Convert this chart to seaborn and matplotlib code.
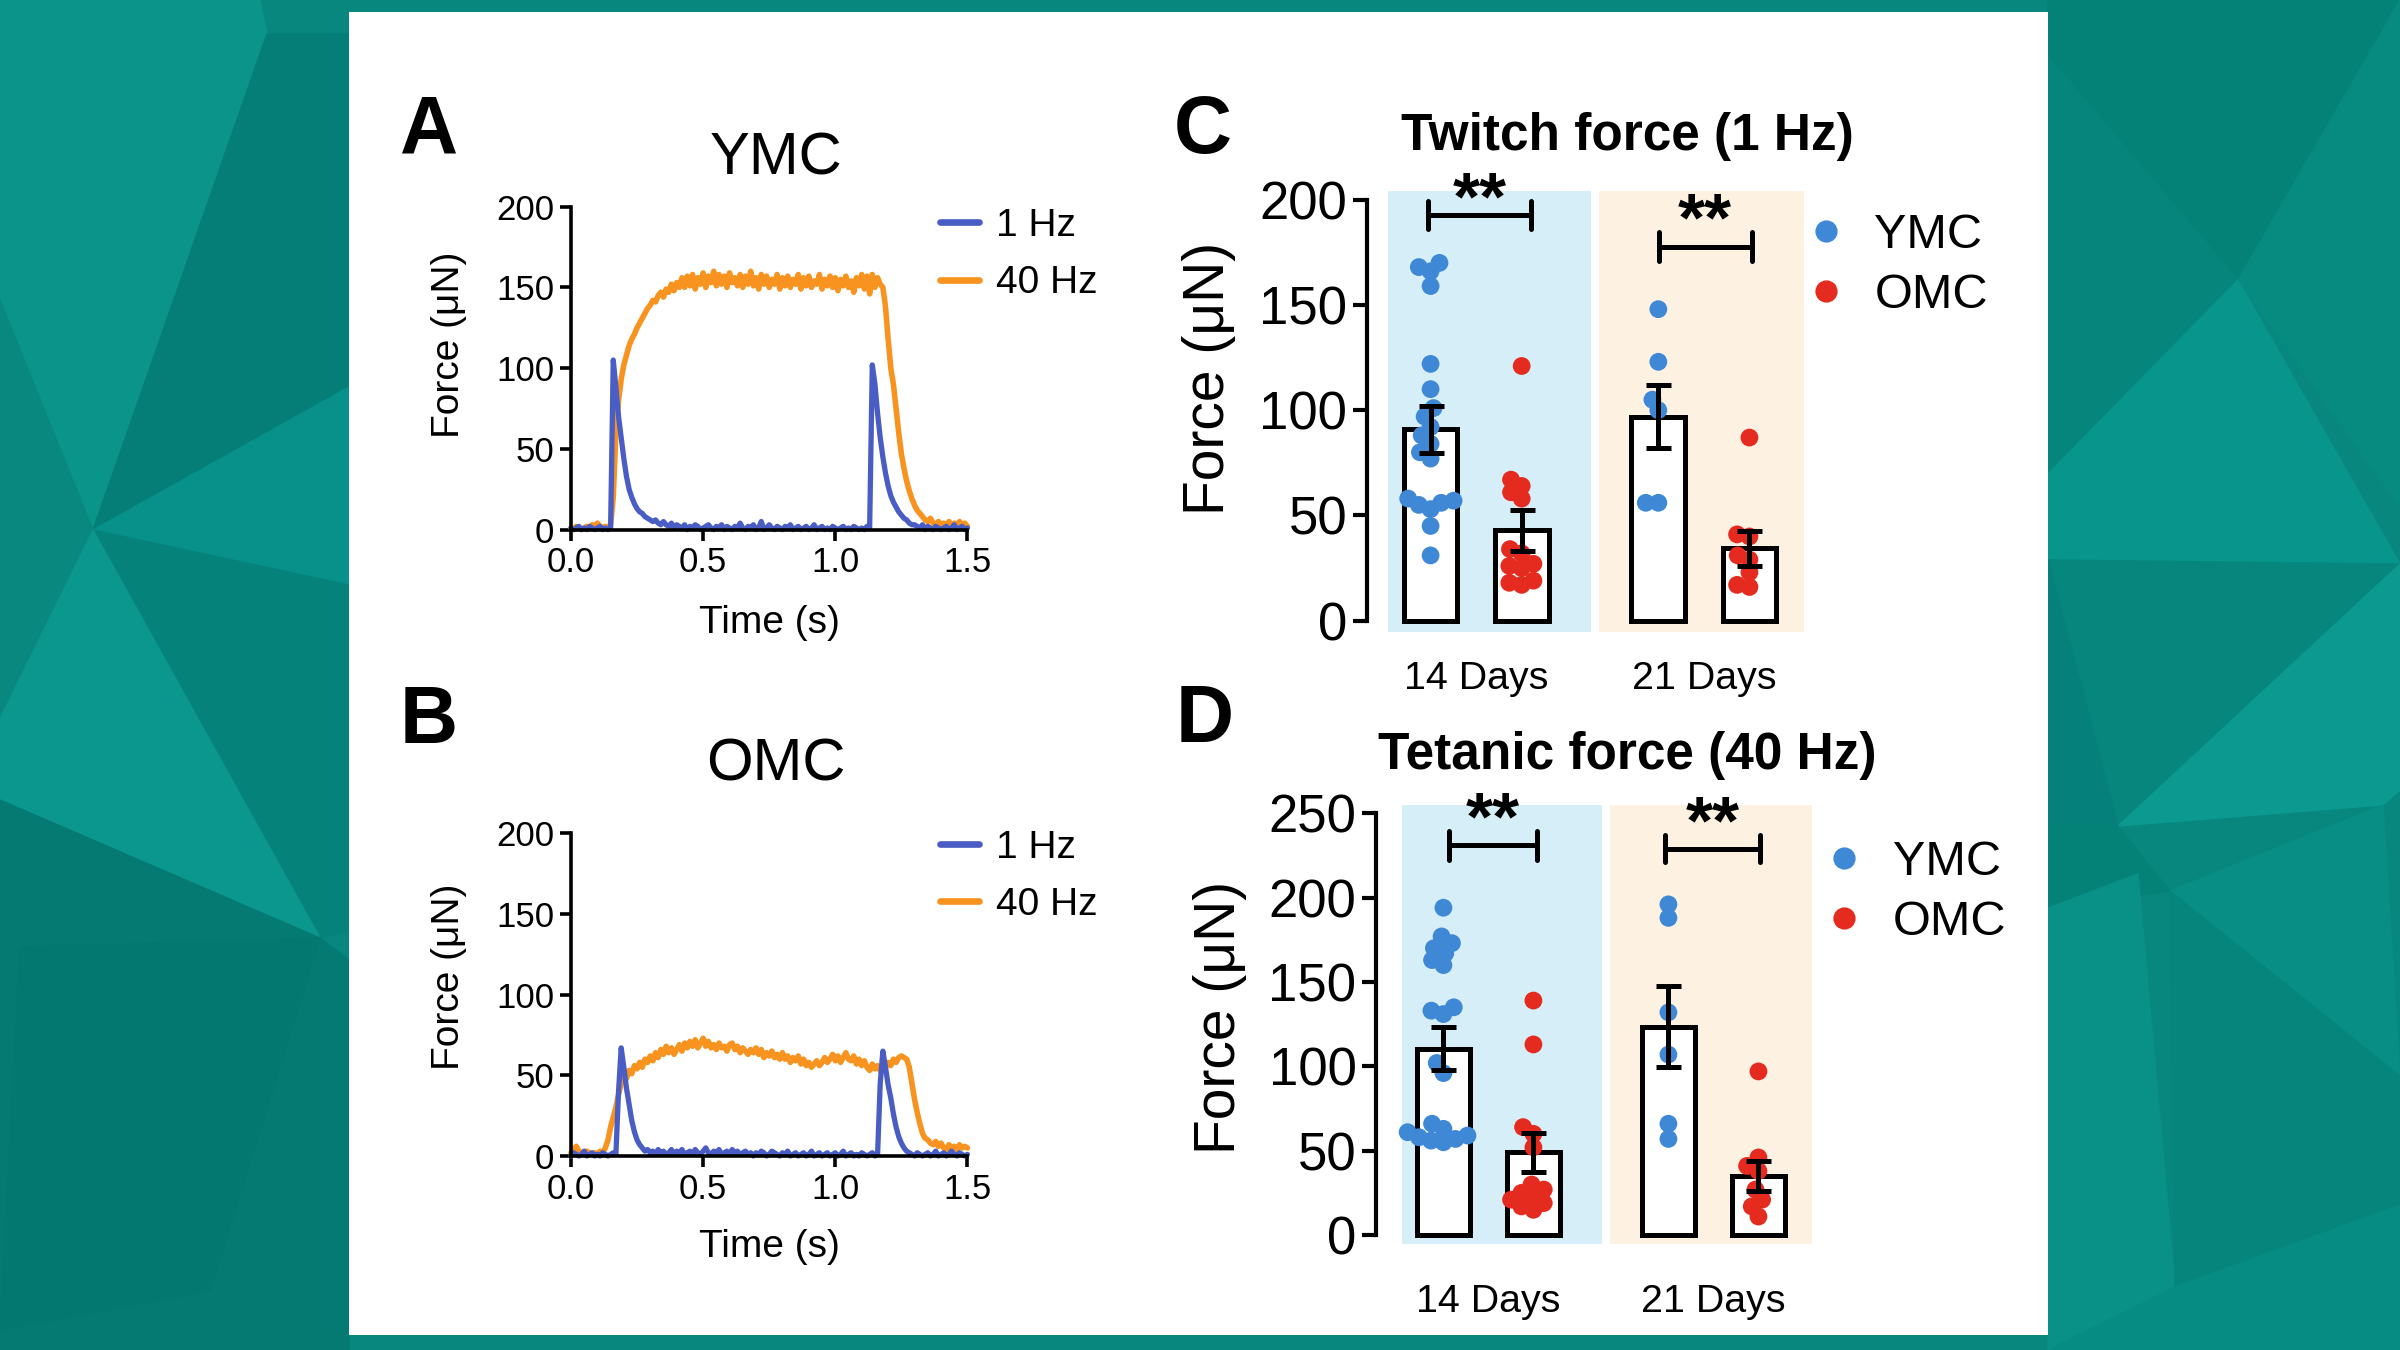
import numpy as np
import pandas as pd
import matplotlib.pyplot as plt
import seaborn as sns
from matplotlib.patches import Rectangle, Polygon
from matplotlib.lines import Line2D

# ---- force traces, one sample every 10 ms from 0.00 to 1.50 s ----
YMC_1HZ = [
    1, 0, 1, 2, 0, 1, 0, 2, 1, 0,
    1, 2, 0, 1, 0, 1, 105, 88, 70, 57,
    44, 33, 25, 20, 16, 13, 11, 10, 8, 7,
    6, 5, 6, 4, 3, 5, 3, 2, 4, 1,
    3, 2, 1, 3, 0, 2, 1, 3, 2, 0,
    1, 2, 3, 1, 0, 2, 1, 3, 0, 2,
    1, 0, 2, 1, 4, 1, 0, 2, 1, 3,
    0, 1, 5, 0, 1, 3, 1, 0, 2, 1,
    0, 2, 1, 3, 0, 1, 2, 0, 1, 2,
    0, 1, 3, 0, 1, 2, 0, 1, 0, 2,
    1, 0, 1, 2, 0, 1, 0, 2, 1, 0,
    1, 0, 2, 1, 102, 90, 72, 57, 45, 35,
    27, 21, 17, 14, 11, 9, 7, 6, 4, 3,
    3, 2, 1, 3, 0, 2, 1, 0, 2, 1,
    0, 1, 2, 0, 1, 3, 0, 1, 2, 0,
    1,
]
YMC_40HZ = [
    1, 0, 2, 1, 0, 1, 2, 1, 3, 2,
    4, 2, 1, 2, 1, 3, 20, 60, 80, 93,
    102, 108, 114, 118, 121, 125, 128, 131, 134, 137,
    139, 142, 141, 145, 147, 144, 149, 147, 152, 148,
    153, 150, 156, 150, 157, 151, 158, 149, 156, 152,
    159, 150, 157, 153, 160, 151, 158, 152, 157, 150,
    159, 153, 156, 151, 158, 150, 157, 152, 160, 151,
    156, 149, 158, 152, 157, 150, 155, 152, 158, 149,
    156, 151, 157, 150, 155, 152, 158, 149, 156, 151,
    157, 150, 154, 152, 158, 149, 155, 151, 157, 150,
    156, 148, 155, 151, 157, 150, 154, 147, 156, 151,
    158, 149, 157, 146, 158, 150, 156, 152, 150, 138,
    118, 100, 90, 75, 60, 47, 38, 30, 24, 19,
    15, 12, 10, 8, 6, 5, 7, 4, 3, 5,
    3, 4, 2, 5, 3, 4, 2, 5, 3, 4,
    2,
]
OMC_1HZ = [
    0, 2, 1, 0, 1, 3, 0, 1, 2, 0,
    1, 0, 2, 1, 0, 1, 2, 1, 40, 67,
    55, 42, 32, 22, 15, 10, 7, 5, 3, 4,
    2, 3, 1, 4, 2, 3, 1, 2, 4, 1,
    3, 2, 4, 1, 2, 3, 1, 4, 2, 1,
    3, 5, 2, 1, 3, 2, 4, 1, 2, 3,
    1, 4, 2, 3, 1, 2, 3, 1, 2, 0,
    2, 1, 3, 2, 0, 1, 3, 2, 1, 0,
    2, 1, 3, 0, 1, 2, 0, 1, 2, 0,
    1, 3, 0, 1, 2, 0, 1, 2, 0, 1,
    2, 0, 1, 3, 0, 1, 2, 0, 1, 0,
    2, 1, 0, 1, 2, 0, 1, 45, 65, 55,
    44, 36, 26, 18, 12, 8, 5, 3, 2, 1,
    0, 2, 1, 0, 1, 2, 0, 1, 3, 0,
    1, 2, 0, 1, 3, 1, 0, 2, 1, 0,
    1,
]
OMC_40HZ = [
    2, 4, 6, 3, 2, 1, 3, 2, 1, 2,
    1, 3, 2, 5, 10, 18, 24, 30, 38, 45,
    50, 48, 53, 51, 56, 54, 58, 55, 60, 58,
    62, 59, 64, 61, 66, 63, 68, 64, 67, 63,
    66, 69, 65, 70, 67, 71, 68, 72, 67, 70,
    73, 68, 71, 67, 69, 66, 70, 67, 68, 65,
    69, 70, 66, 68, 64, 67, 65, 63, 66, 64,
    67, 63, 66, 61, 64, 62, 65, 61, 63, 60,
    64, 60, 62, 58, 61, 59, 62, 57, 60, 56,
    58, 55, 57, 59, 56, 58, 61, 58, 60, 63,
    59, 62, 58, 61, 64, 60, 59, 62, 57, 60,
    56, 59, 55, 53, 57, 54, 56, 53, 57, 55,
    58, 56, 60, 58, 61, 62, 61, 60, 55, 45,
    35, 27, 20, 14, 11, 10, 8, 7, 9, 6,
    8, 5, 4, 7, 5, 6, 4, 7, 5, 6,
    5,
]

# ---- individual muscles (uN) ----
DAYS = ["14 Days", "21 Days"]
GROUPS = ["YMC", "OMC"]

TWITCH_YMC_14 = [170, 168, 166, 159, 122, 110, 101, 97, 92, 88, 84, 80, 77,
                 58, 57, 56, 55, 53, 45, 31]
TWITCH_OMC_14 = [121, 67, 64, 61, 58, 34, 32, 27, 26, 25, 19, 18, 17]
TWITCH_YMC_21 = [148, 123, 105, 100, 56, 56]
TWITCH_OMC_21 = [87, 41, 40, 31, 29, 23, 17, 16]
TWITCH_MEAN = {"YMC": [90.9, 97.0], "OMC": [43.0, 34.5]}
TWITCH_SEM = {"YMC": [11.2, 15.0], "OMC": [9.7, 8.3]}

TETANIC_YMC_14 = [194, 177, 173, 170, 167, 163, 160, 135, 133, 131, 102, 96,
                  66, 63, 61, 59, 58, 57, 56, 55]
TETANIC_OMC_14 = [139, 113, 64, 60, 52, 30, 27, 25, 23, 21, 19, 17, 15]
TETANIC_YMC_21 = [196, 188, 132, 107, 66, 57]
TETANIC_OMC_21 = [97, 46, 41, 38, 27, 21, 17, 11]
TETANIC_MEAN = {"YMC": [110.5, 123.5], "OMC": [49.0, 35.0]}
TETANIC_SEM = {"YMC": [12.8, 24.0], "OMC": [11.7, 8.9]}

LINE_BLUE = "#4a5dc4"
LINE_ORANGE = "#f7931e"
DOT_COLORS = {"YMC": "#3f88d6", "OMC": "#e52a1f"}
SHADE_BLUE = "#d5eef7"
SHADE_PEACH = "#fdf1e2"
TEAL = "#07877e"

# background low-poly pattern (pixel coords of the 2400x1350 canvas)
BG_POLYS = [
    ([(0, 0), (260, 0), (267, 34), (93, 530), (0, 300)], "#0a948a"),
    ([(0, 300), (93, 530), (0, 719)], "#08887f"),
    ([(267, 34), (349, 34), (349, 387), (93, 530)], "#047e76"),
    ([(93, 530), (349, 387), (349, 585)], "#07918a"),
    ([(93, 530), (349, 585), (349, 930), (320, 938)], "#05827a"),
    ([(0, 719), (93, 530), (320, 938), (0, 800)], "#0b978d"),
    ([(0, 800), (320, 938), (349, 960), (349, 1350), (0, 1350)], "#047a72"),
    ([(20, 947), (320, 938), (210, 1291), (0, 1330)], "#037870"),
    ([(2048, 0), (2400, 0), (2238, 280), (2048, 56)], "#058278"),
    ([(2238, 280), (2400, 0), (2400, 508)], "#078a80"),
    ([(2048, 56), (2238, 280), (2048, 474)], "#06857c"),
    ([(2048, 474), (2238, 280), (2400, 564), (2048, 560)], "#08958b"),
    ([(2048, 560), (2400, 564), (2118, 826)], "#06867d"),
    ([(2118, 826), (2400, 564), (2400, 790), (2383, 805)], "#0c9990"),
    ([(2048, 560), (2118, 826), (2048, 826)], "#05807a"),
    ([(2048, 826), (2118, 826), (2170, 891), (2048, 908)], "#058278"),
    ([(2170, 891), (2383, 805), (2400, 1076)], "#088e85"),
    ([(2048, 908), (2138, 874), (2175, 1287), (2048, 1350)], "#099188"),
    ([(2170, 891), (2400, 1076), (2400, 1205), (2175, 1287)], "#05857c"),
    ([(2175, 1287), (2400, 1205), (2400, 1350), (2048, 1350)], "#078c83"),
]

sns.set_theme(style="ticks", rc={
    "axes.edgecolor": "black", "xtick.color": "black", "ytick.color": "black",
    "text.color": "black", "axes.labelcolor": "black",
})
plt.rcParams["font.family"] = ["Liberation Sans", "DejaVu Sans"]

fig = plt.figure(figsize=(12, 6.75), dpi=200)
fig.patch.set_facecolor(TEAL)
for pts, col in BG_POLYS:
    xy = [(x / 2400, 1 - y / 1350) for x, y in pts]
    fig.add_artist(Polygon(xy, closed=True, transform=fig.transFigure,
                           fc=col, ec=col, lw=0.5, zorder=-3))
fig.add_artist(Rectangle((349 / 2400, 1 - 1335 / 1350), 1699 / 2400, 1323 / 1350,
                         transform=fig.transFigure, fc="white", ec="none", zorder=-2))


def trace_panel(rect, one_hz, forty_hz, legend_top):
    ax = fig.add_axes(rect)
    ax.set_facecolor("none")
    t40 = np.linspace(0, 1.5, len(forty_hz))
    t1 = np.linspace(0, 1.5, len(one_hz))
    sns.lineplot(x=t40, y=forty_hz, ax=ax, color=LINE_ORANGE, lw=2.0,
                 estimator=None, clip_on=False)
    sns.lineplot(x=t1, y=one_hz, ax=ax, color=LINE_BLUE, lw=1.9,
                 estimator=None, clip_on=False)
    ax.set_xlim(0, 1.5)
    ax.set_ylim(0, 200)
    ax.set_xticks([0, 0.5, 1.0, 1.5])
    ax.set_xticklabels(["0.0", "0.5", "1.0", "1.5"])
    ax.set_yticks([0, 50, 100, 150, 200])
    sns.despine(ax=ax)
    for s in ("left", "bottom"):
        ax.spines[s].set_linewidth(1.3)
    ax.tick_params(labelsize=12.5, length=4, width=1.3, pad=2)
    ax.set_xlabel("")
    ax.set_ylabel("")
    handles = [Line2D([], [], color=LINE_BLUE, lw=2.4),
               Line2D([], [], color=LINE_ORANGE, lw=2.4)]
    ax.legend(handles, ["1 Hz", "40 Hz"], loc="upper left",
              bbox_to_anchor=(0.3916, legend_top), bbox_transform=fig.transFigure,
              frameon=False, fontsize=14, handlelength=1.0, handletextpad=0.45,
              labelspacing=0.55, borderpad=0, borderaxespad=0)
    return ax


def bar_panel(rect, xleft, pts, means, sems, ymax, brackets, legend_pos, xpad):
    ax = fig.add_axes(rect)
    ax.set_facecolor("none")
    top = ymax * 1.02
    ax.fill_between([-0.385, 0.505], -5.5, top, color=SHADE_BLUE, lw=0, zorder=0)
    ax.fill_between([0.54, 1.44], -5.5, top, color=SHADE_PEACH, lw=0, zorder=0)

    summ = pd.DataFrame({
        "day": DAYS * 2,
        "group": [g for g in GROUPS for _ in DAYS],
        "mean": means["YMC"] + means["OMC"],
    })
    sns.barplot(data=summ, x="day", y="mean", hue="group", order=DAYS,
                hue_order=GROUPS, palette={"YMC": "white", "OMC": "white"},
                saturation=1, edgecolor="black", linewidth=1.8, gap=0.41,
                errorbar=None, legend=False, ax=ax, zorder=2)
    # swarm laid out with small markers so the dots overlap like the original
    sns.swarmplot(data=pts, x="day", y="force", hue="group", order=DAYS,
                  hue_order=GROUPS, palette=DOT_COLORS, dodge=True, size=4.3,
                  legend=False, warn_thresh=1, ax=ax, zorder=3)
    bar_sets = list(ax.containers)
    for cont, g in zip(bar_sets, GROUPS):
        for bar, m, s in zip(cont, means[g], sems[g]):
            cx = bar.get_x() + bar.get_width() / 2
            ax.errorbar(cx, m, yerr=s, color="black", lw=1.8, capsize=4.5,
                        capthick=1.8, zorder=4)

    for x0, x1, y, tick, star_x, star_y in brackets:
        ax.plot([x0, x1], [y, y], color="black", lw=1.8, zorder=5, clip_on=False)
        for xe in (x0, x1):
            ax.plot([xe, xe], [y - tick, y + tick], color="black", lw=1.8,
                    zorder=5, clip_on=False)
        ax.text(star_x, star_y, "**", ha="center", va="center", fontsize=25,
                fontweight="bold")

    ax.set_xlim(xleft, 1.5)
    ax.set_ylim(-6, ymax + 6)
    ax.set_yticks(np.arange(0, ymax + 1, 50))
    sns.despine(ax=ax, bottom=True)
    ax.spines["left"].set_bounds(0, ymax)
    ax.spines["left"].set_linewidth(1.5)
    ax.tick_params(axis="y", labelsize=19, length=5, width=1.5, pad=2)
    ax.tick_params(axis="x", labelsize=14.2, length=0, pad=xpad)
    ax.set_xlabel("")
    ax.set_ylabel("")
    handles = [Line2D([], [], marker="o", ls="", color=DOT_COLORS[g], markersize=7)
               for g in GROUPS]
    ax.legend(handles, GROUPS, loc="upper left", bbox_to_anchor=legend_pos,
              bbox_transform=fig.transFigure, frameon=False, fontsize=17.5,
              handlelength=0.8, handletextpad=0.6, labelspacing=0.3,
              borderpad=0, borderaxespad=0)
    return ax


def long_form(ymc14, omc14, ymc21, omc21):
    rows = []
    for day, g, vals in [("14 Days", "YMC", ymc14), ("14 Days", "OMC", omc14),
                         ("21 Days", "YMC", ymc21), ("21 Days", "OMC", omc21)]:
        rows += [(day, g, v) for v in vals]
    return pd.DataFrame(rows, columns=["day", "group", "force"])


# panels A and B
trace_panel([0.2379, 0.6077, 0.1652, 0.2392], YMC_1HZ, YMC_40HZ, 0.846)
trace_panel([0.2379, 0.1437, 0.1652, 0.2391], OMC_1HZ, OMC_40HZ, 0.3855)

# panels C and D
twitch = long_form(TWITCH_YMC_14, TWITCH_OMC_14, TWITCH_YMC_21, TWITCH_OMC_21)
tetanic = long_form(TETANIC_YMC_14, TETANIC_OMC_14, TETANIC_YMC_21, TETANIC_OMC_21)

ax_c = bar_panel([0.5695, 0.5309, 0.1879, 0.3305], -0.48, twitch, TWITCH_MEAN,
                 TWITCH_SEM, 200,
                 [(-0.21, 0.24, 192.8, 6.8, 0.016, 199),
                  (0.805, 1.21, 177.7, 7.0, 1.003, 189)],
                 (0.7526, 0.842), 10)
ax_d = bar_panel([0.5733, 0.0776, 0.1875, 0.3275], -0.50, tetanic, TETANIC_MEAN,
                 TETANIC_SEM, 250,
                 [(-0.177, 0.217, 231, 8.5, 0.02, 245),
                  (0.783, 1.209, 229, 8.0, 0.996, 243)],
                 (0.7602, 0.3775), 14)

# labels
fig.text(0.1786, 0.9025, "A", fontsize=29, fontweight="bold", ha="center", va="center")
fig.text(0.1786, 0.4649, "B", fontsize=29, fontweight="bold", ha="center", va="center")
fig.text(0.5013, 0.9025, "C", fontsize=29, fontweight="bold", ha="center", va="center")
fig.text(0.5019, 0.4660, "D", fontsize=29, fontweight="bold", ha="center", va="center")
fig.text(0.3233, 0.8820, "YMC", fontsize=21.5, ha="center", va="center")
fig.text(0.3233, 0.4330, "OMC", fontsize=21.5, ha="center", va="center")
fig.text(0.678, 0.8990, "Twitch force (1 Hz)", fontsize=18.5, fontweight="bold",
         ha="center", va="center")
fig.text(0.678, 0.4405, "Tetanic force (40 Hz)", fontsize=18.5, fontweight="bold",
         ha="center", va="center")
for y in (0.7449, 0.2766):
    fig.text(0.1869, y, "Force (\u03bcN)", fontsize=14, rotation=90,
             ha="center", va="center")
for y in (0.5385, 0.0760):
    fig.text(0.3208, y, "Time (s)", fontsize=14, ha="center", va="center")
fig.text(0.5038, 0.720, "Force (\u03bcN)", fontsize=20.5, rotation=90,
         ha="center", va="center")
fig.text(0.5083, 0.246, "Force (\u03bcN)", fontsize=20.5, rotation=90,
         ha="center", va="center")

# fix the swarm layout, then enlarge the dots to their printed size
fig.canvas.draw()
for ax in (ax_c, ax_d):
    for coll in ax.collections:
        if "draw" in coll.__dict__:
            del coll.draw
            coll.set_sizes([6.4 ** 2])

fig.savefig("out.png", dpi=200, facecolor=fig.get_facecolor())
